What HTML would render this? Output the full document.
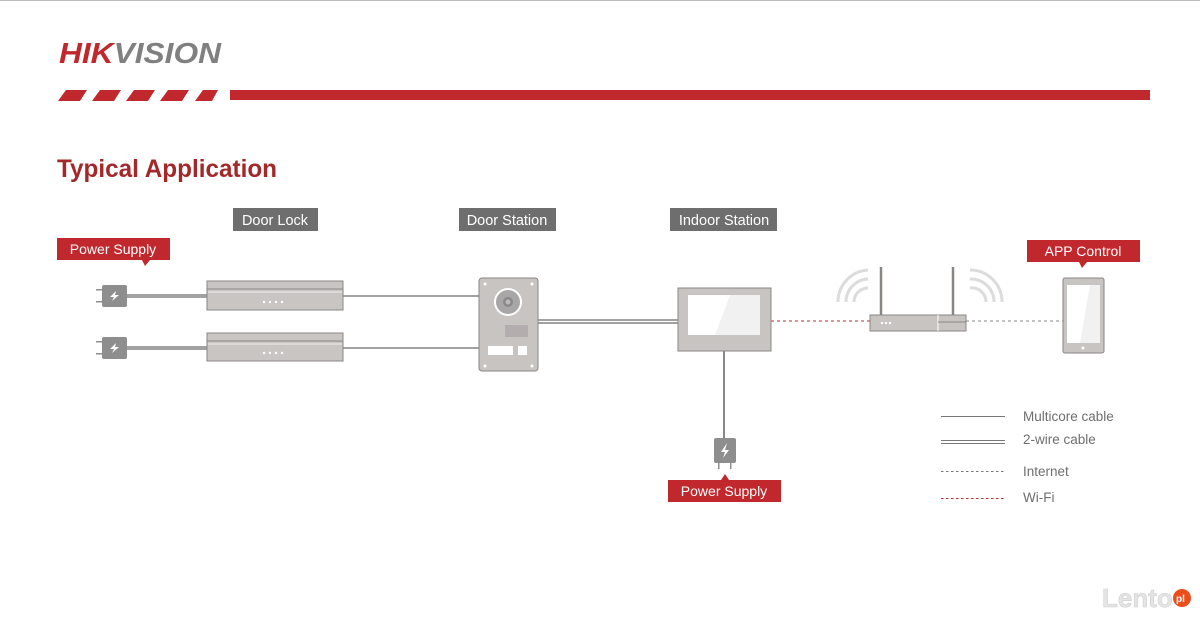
<!DOCTYPE html>
<html><head><meta charset="utf-8"><style>
html,body{margin:0;padding:0;background:#fff;}
svg{display:block;font-family:"Liberation Sans","DejaVu Sans",sans-serif;}
</style></head><body>
<svg width="1200" height="618" viewBox="0 0 1200 618" xmlns="http://www.w3.org/2000/svg">
<rect width="1200" height="618" fill="#fff"/>
<line x1="0" y1="0.5" x2="1200" y2="0.5" stroke="#bbb"/>
<!-- logo -->
<text x="59" y="63" font-size="29" font-weight="bold" font-style="italic" fill="#c0282d" textLength="162" lengthAdjust="spacingAndGlyphs">HIK<tspan fill="#808080">VISION</tspan></text>
<g fill="#c0282d">
<polygon points="66,90 87,90 80,101 58,101"/>
<polygon points="100,90 121,90 114,101 92,101"/>
<polygon points="134,90 155,90 148,101 126,101"/>
<polygon points="168,90 189,90 182,101 160,101"/>
<polygon points="203,90 218,90 212,101 195,101"/>
<rect x="230" y="90" width="920" height="10"/>
</g>
<text x="57" y="177" font-size="25" font-weight="bold" fill="#a3282a" textLength="220" lengthAdjust="spacingAndGlyphs">Typical Application</text>
<!-- gray labels -->
<g font-size="14.5" fill="#fff" text-anchor="middle">
<rect x="233" y="208" width="85" height="23" fill="#6e6e6e"/><text x="275" y="225">Door Lock</text>
<rect x="459" y="208" width="97" height="23" fill="#6e6e6e"/><text x="507" y="225">Door Station</text>
<rect x="670" y="208" width="107" height="23" fill="#6e6e6e"/><text x="724" y="225">Indoor Station</text>
</g>
<!-- red labels -->
<g font-size="14" fill="#fff" text-anchor="middle">
<rect x="57" y="238" width="113" height="22" fill="#c0282d"/><polygon points="142,260 150,260 145,266" fill="#c0282d"/><text x="113" y="254">Power Supply</text>
<rect x="1027" y="240" width="113" height="22" fill="#c0282d"/><polygon points="1079,262 1087,262 1082,268" fill="#c0282d"/><text x="1083" y="256">APP Control</text>
<rect x="668" y="480" width="113" height="22" fill="#c0282d"/><polygon points="721,480 729,480 725,474" fill="#c0282d"/><text x="724" y="496">Power Supply</text>
</g>
<!-- lines -->
<g stroke="#6a6a6a" stroke-width="1.3" fill="none">
<line x1="127" y1="295" x2="207" y2="295"/><line x1="127" y1="297" x2="207" y2="297"/>
<line x1="127" y1="347" x2="207" y2="347"/><line x1="127" y1="349" x2="207" y2="349"/>
<line x1="343" y1="296" x2="480" y2="296"/>
<line x1="343" y1="348" x2="480" y2="348"/>
<line x1="538" y1="320" x2="678" y2="320"/><line x1="538" y1="323" x2="678" y2="323"/>
<line x1="724" y1="351" x2="724" y2="440" stroke-width="1.6"/>
</g>
<line x1="771" y1="321" x2="870" y2="321" stroke="#c0282d" stroke-dasharray="3,3"/>
<line x1="966" y1="321" x2="1063" y2="321" stroke="#888" stroke-dasharray="3,3"/>
<!-- plugs -->
<g fill="#8e8e8e">
<rect x="102" y="285" width="25" height="22" rx="2"/><rect x="96" y="289" width="6" height="1.5"/><rect x="96" y="301" width="6" height="1.5"/>
<rect x="102" y="337" width="25" height="22" rx="2"/><rect x="96" y="341" width="6" height="1.5"/><rect x="96" y="353" width="6" height="1.5"/>
<rect x="714" y="438" width="22" height="25" rx="2"/><rect x="718" y="463" width="1.5" height="6"/><rect x="730" y="463" width="1.5" height="6"/>
</g>
<g fill="#fff">
<polygon points="116,291 110,297 114,297 112,301 119,295 115,295"/>
<polygon points="116,343 110,349 114,349 112,353 119,347 115,347"/>
<polygon points="727,443 721,452 725,452 723,458 729,450 725,450"/>
</g>
<!-- locks -->
<g>
<rect x="207" y="281" width="136" height="29" fill="#c9c5c3" stroke="#8a8684"/>
<line x1="207" y1="289" x2="343" y2="289" stroke="#8a8684"/><line x1="208" y1="292" x2="342" y2="292" stroke="#eee"/>
<rect x="207" y="333" width="136" height="28" fill="#c9c5c3" stroke="#8a8684"/>
<line x1="207" y1="341" x2="343" y2="341" stroke="#8a8684"/><line x1="208" y1="344" x2="342" y2="344" stroke="#eee"/>
<g fill="#fff"><circle cx="264" cy="302" r="1.2"/><circle cx="270" cy="302" r="1.2"/><circle cx="276" cy="302" r="1.2"/><circle cx="282" cy="302" r="1.2"/>
<circle cx="264" cy="353" r="1.2"/><circle cx="270" cy="353" r="1.2"/><circle cx="276" cy="353" r="1.2"/><circle cx="282" cy="353" r="1.2"/></g>
</g>
<!-- door station -->
<rect x="479" y="278" width="59" height="93" rx="3" fill="#c8c4c2" stroke="#8a8684"/>
<circle cx="508" cy="302" r="14" fill="#fff"/><circle cx="508" cy="302" r="12" fill="#a8a6a6"/><circle cx="508" cy="302" r="5" fill="#8a8888"/><circle cx="508" cy="302" r="2.5" fill="#bbb"/>
<g fill="#fff"><circle cx="485" cy="284" r="1.5"/><circle cx="532" cy="284" r="1.5"/><circle cx="485" cy="366" r="1.5"/><circle cx="532" cy="366" r="1.5"/></g>
<rect x="505" y="325" width="23" height="12" fill="#a9a5a4" opacity="0.7"/>
<rect x="488" y="346" width="25" height="9" fill="#fff"/><rect x="518" y="346" width="9" height="9" fill="#fff"/>
<!-- monitor -->
<rect x="678" y="288" width="93" height="63" fill="#c8c4c2" stroke="#8a8684"/>
<rect x="688" y="295" width="72" height="40" fill="#fff"/>
<polygon points="730,295 760,295 760,335 715,335" fill="#f1f1f1"/>
<!-- router -->
<g stroke="#8a8684" stroke-width="2.5" fill="none"><line x1="881" y1="267" x2="881" y2="315"/><line x1="953" y1="267" x2="953" y2="315"/></g>
<rect x="870" y="315" width="96" height="16" fill="#c8c4c2" stroke="#8a8684"/>
<line x1="938" y1="315" x2="938" y2="331" stroke="#fff"/><line x1="938" y1="322" x2="966" y2="322" stroke="#8a8684"/>
<g fill="#fff"><circle cx="882" cy="323" r="1.2"/><circle cx="886" cy="323" r="1.2"/><circle cx="890" cy="323" r="1.2"/></g>
<g stroke="#dcdcdc" stroke-width="3" fill="none">
<path d="M838,302 A32,32 0 0 1 868,270"/><path d="M846,302 A23,23 0 0 1 868,279"/><path d="M854,302 A14,14 0 0 1 868,288"/>
<path d="M1002,302 A32,32 0 0 0 970,270"/><path d="M994,302 A23,23 0 0 0 970,279"/><path d="M986,302 A14,14 0 0 0 970,288"/>
</g>
<!-- phone -->
<rect x="1063" y="278" width="41" height="75" rx="2" fill="#c8c4c2" stroke="#8a8684"/>
<rect x="1067" y="285" width="33" height="58" fill="#fff"/>
<polygon points="1090,285 1100,285 1100,343 1080,343" fill="#f1f1f1"/>
<circle cx="1083" cy="348" r="1.5" fill="#fff"/>
<!-- legend -->
<g stroke="#777">
<line x1="941" y1="416.5" x2="1005" y2="416.5"/>
<line x1="941" y1="440.5" x2="1005" y2="440.5"/><line x1="941" y1="443.5" x2="1005" y2="443.5"/>
<line x1="941" y1="471.5" x2="1005" y2="471.5" stroke-dasharray="2.5,2.5"/>
<line x1="941" y1="498.5" x2="1005" y2="498.5" stroke="#c0282d" stroke-dasharray="2.5,2.5"/>
</g>
<g font-size="13.5" fill="#6e6e6e">
<text x="1023" y="421">Multicore cable</text>
<text x="1023" y="444">2-wire cable</text>
<text x="1023" y="476">Internet</text>
<text x="1023" y="502">Wi-Fi</text>
</g>
<!-- watermark -->
<text x="1102" y="607" font-size="26" font-weight="bold" fill="#e4e4e4" stroke="#ccc" stroke-width="0.5">Lento</text>
<circle cx="1182" cy="598" r="9" fill="#e94e1b"/><text x="1176" y="602" font-size="10" font-weight="bold" fill="#fff">pl</text>
</svg>
</body></html>
